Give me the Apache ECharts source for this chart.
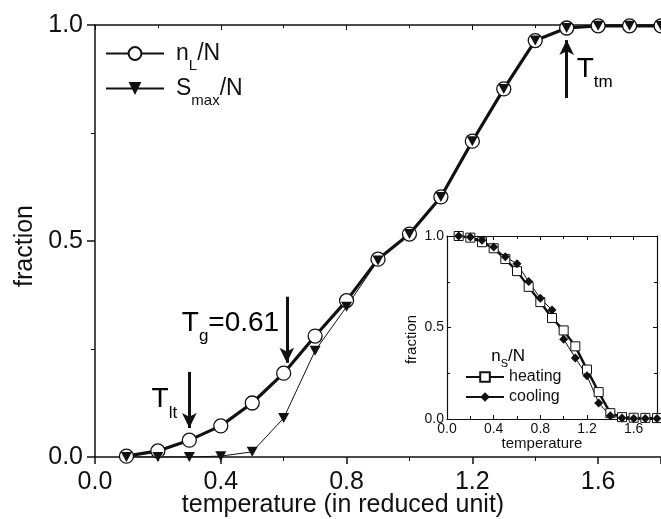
<!DOCTYPE html>
<html><head><meta charset="utf-8">
<script src="https://cdn.jsdelivr.net/npm/echarts@6/dist/echarts.min.js"></script>
<style>html,body{margin:0;padding:0;background:#fff}#c{width:661px;height:519px}</style>
</head><body><div id="c"></div><script>
// ---- data ----
const temps = [0.1,0.2,0.3,0.4,0.5,0.6,0.7,0.8,0.9,1.0,1.1,1.2,1.3,1.4,1.5,1.6,1.7,1.8];
const nL_N   = [0.002,0.014,0.039,0.072,0.125,0.194,0.280,0.362,0.458,0.516,0.602,0.731,0.852,0.964,0.993,0.998,0.998,0.998];
const Smax_N = [0.000,0.000,0.000,0.002,0.012,0.090,0.246,0.348,0.455,0.516,0.602,0.731,0.852,0.964,0.993,0.998,0.998,0.998];
const heating = [1.000,0.991,0.966,0.933,0.874,0.808,0.722,0.639,0.552,0.484,0.397,0.270,0.147,0.032,0.010,0.007,0.006,0.005];
const cooling = [1.000,0.995,0.977,0.940,0.886,0.848,0.751,0.660,0.595,0.436,0.333,0.236,0.088,0.018,0.005,0.003,0.003,0.003];
const mainXTicks = [0.0,0.4,0.8,1.2,1.6];
const insetXTicks = [0.0,0.4,0.8,1.2,1.6];
// annotation arrows [x, yStart, yEnd]
const arrows = [[0.3,0.197,0.067],[0.61,0.371,0.218],[1.5,0.831,0.965]];

const FONT = 'Liberation Sans, Arial, sans-serif';
const INK = '#111';
const pairs = (ys) => temps.map((t,i)=>[t, ys[i]]);

const chart = echarts.init(document.getElementById('c'), null, {renderer:'canvas'});

// rich text with a lowered subscript
const subRich = (big, small, drop) => ({
  p:{width:7},
  a:{fontSize:big, fontFamily:FONT, color:INK, verticalAlign:'top', lineHeight:big},
  s:{fontSize:small, fontFamily:FONT, color:INK, verticalAlign:'top', lineHeight:small,
     padding:[Math.round(0.85*(big-small)+drop),0,0,0]}
});

const option = {
  animation:false,
  backgroundColor:'#fff',
  grid:[
    {left:95, top:25, right:0, bottom:62, outerBoundsMode:'none', containLabel:false},
    {left:447, top:236, right:4, bottom:100, outerBoundsMode:'none', containLabel:false}
  ],
  legend:[
    {
      data:['nL','Smax'],
      orient:'vertical', left:105, top:42, padding:0,
      itemWidth:58, itemHeight:16, itemGap:4,
      formatter: n => n==='nL' ? '{p| }{a|n}{s|L}{a|/N}' : '{p| }{a|S}{s|max}{a|/N}',
      textStyle:{color:INK, rich:subRich(23,15,9)}
    },
    {
      data:['heating','cooling'],
      orient:'vertical', left:465, top:369, padding:0,
      itemWidth:38, itemHeight:12, itemGap:4,
      textStyle:{fontSize:16, fontFamily:FONT, color:INK}
    }
  ],
  xAxis:[
    {gridIndex:0, type:'value', min:0, max:1.8, interval:0.4,
     name:'temperature (in reduced unit)', nameLocation:'middle', nameGap:36, nameMoveOverlap:false,
     nameTextStyle:{fontSize:25, fontFamily:FONT, color:INK, padding:[0,70,0,0]},
     axisLine:{lineStyle:{color:INK, width:1.5}},
     axisTick:{inside:false, length:7, lineStyle:{width:1.5}},
     minorTick:{show:true, splitNumber:2, length:4, lineStyle:{color:INK}},
     axisLabel:{fontSize:25, fontFamily:FONT, color:INK, margin:13,
       formatter:v=>mainXTicks.some(t=>Math.abs(t-v)<1e-6)?v.toFixed(1):''},
     splitLine:{show:false}},
    {gridIndex:0, type:'value', min:0, max:1.8, interval:0.4, position:'top',
     axisLine:{onZero:false, lineStyle:{color:INK, width:1.5}},
     axisTick:{inside:true, length:5}, minorTick:{show:true, splitNumber:2, length:3, lineStyle:{color:INK}},
     axisLabel:{show:false}, splitLine:{show:false}},
    {gridIndex:1, type:'value', min:0, max:1.8, interval:0.4,
     name:'temperature', nameLocation:'middle', nameGap:17, nameMoveOverlap:false,
     nameTextStyle:{fontSize:15, fontFamily:FONT, color:INK, padding:[0,20,0,0]},
     axisLine:{lineStyle:{color:INK, width:1.2}},
     axisTick:{inside:true, length:4}, minorTick:{show:true, splitNumber:2, length:3, lineStyle:{color:INK}},
     axisLabel:{fontSize:14, fontFamily:FONT, color:INK, margin:3,
       formatter:v=>insetXTicks.some(t=>Math.abs(t-v)<1e-6)?v.toFixed(1):''},
     splitLine:{show:false}},
    {gridIndex:1, type:'value', min:0, max:1.8, interval:0.4, position:'top',
     axisLine:{onZero:false, lineStyle:{color:INK, width:1.2}},
     axisTick:{inside:true, length:4}, minorTick:{show:true, splitNumber:2, length:3, lineStyle:{color:INK}},
     axisLabel:{show:false}, splitLine:{show:false}}
  ],
  yAxis:[
    {gridIndex:0, type:'value', min:0, max:1, interval:0.5,
     name:'fraction', nameLocation:'middle', nameGap:57, nameMoveOverlap:false,
     nameTextStyle:{fontSize:25, fontFamily:FONT, color:INK, padding:[0,10,0,0]},
     axisLine:{lineStyle:{color:INK, width:1.5}},
     axisTick:{inside:false, length:8, lineStyle:{width:1.5}},
     minorTick:{show:true, splitNumber:2, length:4, lineStyle:{color:INK}},
     axisLabel:{fontSize:25, fontFamily:FONT, color:INK, margin:12, formatter:v=>v.toFixed(1)},
     splitLine:{show:false}},
    {gridIndex:1, type:'value', min:0, max:1, interval:0.5,
     name:'fraction', nameLocation:'middle', nameGap:28, nameMoveOverlap:false,
     nameTextStyle:{fontSize:15, fontFamily:FONT, color:INK, padding:[0,24,0,0]},
     axisLine:{lineStyle:{color:INK, width:1.2}},
     axisTick:{inside:true, length:4}, minorTick:{show:true, splitNumber:2, length:3, lineStyle:{color:INK}},
     axisLabel:{fontSize:14, fontFamily:FONT, color:INK, margin:3, formatter:v=>v.toFixed(1)},
     splitLine:{show:false}},
    {gridIndex:1, type:'value', min:0, max:1, interval:0.5, position:'right',
     axisLine:{onZero:false, lineStyle:{color:INK, width:1.2}},
     axisTick:{inside:true, length:4}, minorTick:{show:true, splitNumber:2, length:3, lineStyle:{color:INK}},
     axisLabel:{show:false}, splitLine:{show:false}}
  ],
  series:[
    {name:'nL', type:'line', xAxisIndex:0, yAxisIndex:0, data:pairs(nL_N),
     symbol:'circle', symbolSize:14, showAllSymbol:true,
     lineStyle:{color:INK, width:3.2}, itemStyle:{color:'#fff', borderColor:INK, borderWidth:1.3},
     markLine:{silent:true, symbol:['none','arrow'], symbolSize:[11,15], label:{show:false},
       lineStyle:{color:INK, width:3, type:'solid'},
       data: arrows.map(a=>[{coord:[a[0],a[1]]},{coord:[a[0],a[2]]}])}},
    {name:'Smax', type:'line', xAxisIndex:0, yAxisIndex:0, data:pairs(Smax_N),
     symbol:'triangle', symbolRotate:180, symbolSize:[11,10], showAllSymbol:true,
     lineStyle:{color:INK, width:1}, itemStyle:{color:INK}},
    {name:'heating', type:'line', xAxisIndex:2, yAxisIndex:1, data:pairs(heating),
     symbol:'rect', symbolSize:9, showAllSymbol:true,
     lineStyle:{color:INK, width:2.4}, itemStyle:{color:'#fff', borderColor:INK, borderWidth:1}},
    {name:'cooling', type:'line', xAxisIndex:2, yAxisIndex:1, data:pairs(cooling),
     symbol:'diamond', symbolSize:9, showAllSymbol:true,
     lineStyle:{color:INK, width:1}, itemStyle:{color:INK}}
  ]
};
chart.setOption(option);

const P = (x,y)=>chart.convertToPixel({xAxisIndex:0,yAxisIndex:0},[x,y]);
const Q = (x,y)=>chart.convertToPixel({xAxisIndex:2,yAxisIndex:1},[x,y]);
const label = (pt, big, small, drop, a, s, tail) => ({
  type:'text', x:pt[0], y:pt[1],
  style:{text:'{a|'+a+'}{s|'+s+'}'+(tail?'{a|'+tail+'}':''), rich:subRich(big,small,drop)}
});
chart.setOption({graphic:[
  label(P(0.18,0.165), 28, 17, 10, 'T', 'lt'),
  label(P(0.276,0.342), 28, 17, 10, 'T', 'g', '=0.61'),
  label(P(1.532,0.93), 28, 17, 10, 'T', 'tm'),
  label(Q(0.38,0.39), 17, 11, 6, 'n', 'S', '/N')
]});
</script></body></html>
